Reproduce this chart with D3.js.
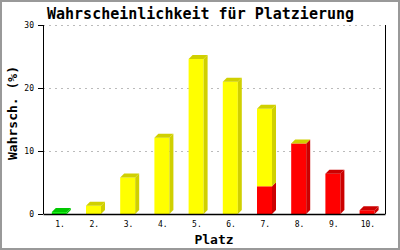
<!DOCTYPE html>
<html><head><meta charset="utf-8">
<script src="https://cdn.jsdelivr.net/npm/d3@7"></script>
<style>body{margin:0;background:#fff}svg{display:block}</style>
</head><body>
<script>
const categories = ["1.","2.","3.","4.","5.","6.","7.","8.","9.","10."];
const greenVals  = [0.3, null, null, null, null, null, null, null, null, null];
const redVals    = [null, null, null, null, null, null, 4.4, 11.2, 6.4, 0.6];
const yellowVals = [null, 1.3, 5.8, 12.1, 24.6, 21.0, 12.3, 0, null, null];
const yTicks = [0, 10, 20, 30];

const W = 400, H = 250;
const m = {l: 43, r: 15, t: 25, b: 36};
const svg = d3.select("body").append("svg").attr("width", W).attr("height", H);
svg.append("rect").attr("x",1).attr("y",1).attr("width",W-2).attr("height",H-2)
  .attr("fill","#fff").attr("stroke","#999").attr("stroke-width",2);

const x = d3.scaleBand().domain(categories).range([m.l, W - m.r]);
const y = d3.scaleLinear().domain([0, 30]).range([H - m.b, m.t]);
const mono = "'DejaVu Sans Mono', monospace";

// grid
svg.append("g").selectAll("line").data(yTicks.filter(d => d > 0)).join("line")
  .attr("x1", m.l).attr("x2", W - m.r).attr("y1", d => y(d) + 0.5).attr("y2", d => y(d) + 0.5)
  .attr("stroke", "#bbb").attr("stroke-dasharray", "2,4");

// bars
const series = [
  {vals: greenVals, front: "#00ee00", dark: "#00c800"},
  {vals: redVals, front: "#ff0000", dark: "#cc0000"},
  {vals: yellowVals, front: "#ffff00", dark: "#d0d000"}
];
const bw = 15, dx = 4, dy = 4, off = 8.8;
const g = svg.append("g");
categories.forEach((c, i) => {
  let base = 0, topColor = null;
  const x0 = x(c) + off, x1 = x0 + bw;
  series.forEach(s => {
    const v = s.vals[i];
    if (v === null) return;
    const yb = y(base), yt = y(base + v);
    if (v > 0) {
      g.append("rect").attr("x", x0).attr("y", yt).attr("width", bw).attr("height", yb - yt).attr("fill", s.front);
      g.append("path").attr("d", `M${x1},${yb}L${x1+dx},${yb-dy}L${x1+dx},${yt-dy}L${x1},${yt}Z`).attr("fill", s.dark);
    }
    base += v; topColor = s.dark;
  });
  if (topColor) {
    const yt = y(base);
    g.append("path").attr("d", `M${x0},${yt}L${x0+dx},${yt-dy}L${x1+dx},${yt-dy}L${x1},${yt}Z`).attr("fill", topColor);
  }
});

// axes
const ya = svg.append("g").attr("transform", `translate(${m.l},0)`)
  .call(d3.axisLeft(y).tickValues(yTicks).tickSize(5).tickPadding(4).tickFormat(d3.format("d")));
ya.select(".domain").attr("stroke", "#000").attr("d", `M0.5,${m.t}V${H-m.b}`);
ya.selectAll("text").attr("font-family", mono).attr("font-size", 8).attr("fill", "#000");
const xa = svg.append("g").attr("transform", `translate(0,${H - m.b})`)
  .call(d3.axisBottom(x).tickSize(0).tickPadding(7));
xa.select(".domain").attr("stroke", "#000").attr("stroke-width", 1.5);
xa.selectAll("text").attr("font-family", mono).attr("font-size", 8).attr("fill", "#000");
svg.append("line").attr("x1", W - m.r + 0.5).attr("x2", W - m.r + 0.5).attr("y1", m.t).attr("y2", H - m.b)
  .attr("stroke", "#000");

// titles
svg.append("text").attr("x", 47).attr("y", 19).attr("font-family", mono).attr("font-weight", "bold")
  .attr("font-size", 15).text("Wahrscheinlichkeit für Platzierung");
svg.append("text").attr("x", 214).attr("y", 244).attr("text-anchor", "middle").attr("font-family", mono)
  .attr("font-weight", "bold").attr("font-size", 13).text("Platz");
svg.append("text").attr("transform", "translate(17,113) rotate(-90)").attr("text-anchor", "middle")
  .attr("font-family", mono).attr("font-weight", "bold").attr("font-size", 13).text("Wahrsch. (%)");
</script>
</body></html>
